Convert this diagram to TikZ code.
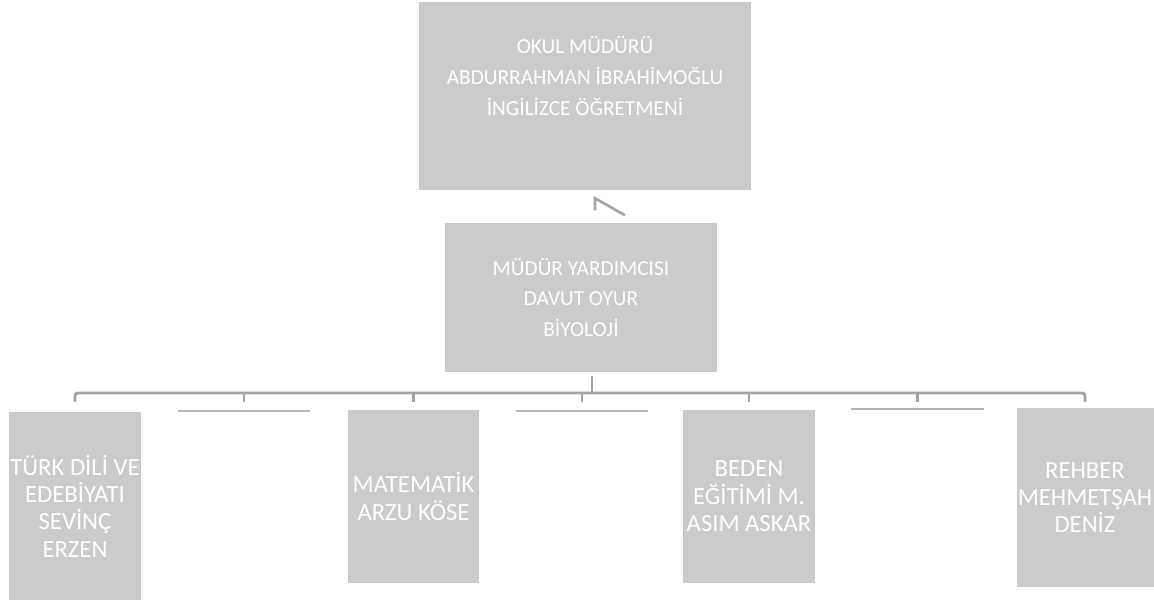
\documentclass[tikz,border=0pt]{standalone}
\usepackage{fontspec}
\setmainfont{Carlito}
\usepackage{xcolor}
\usepackage{tikz}
\usetikzlibrary{positioning, calc}
\definecolor{boxgray}{HTML}{CBCBCB}
\definecolor{linegray}{HTML}{A3A3A3}
\definecolor{gapgray}{HTML}{B5B5B5}

\begin{document}
\begin{tikzpicture}[
    x=0.75pt, y=-0.75pt,
    person/.style={fill=boxgray, text=white, align=center, inner sep=1pt,
                   font=\fontsize{16}{23.2}\selectfont},
    staff/.style={person, minimum width=98.5pt,
                  font=\fontsize{18.5}{20.5}\selectfont},
    gapslot/.style={minimum width=99pt, minimum height=8pt, inner sep=0pt},
    busline/.style={draw=linegray, line width=2.2pt},
    gapline/.style={draw=gapgray, line width=1.6pt}
]
  \useasboundingbox (0,0) rectangle (1154,602);

  % Management
  \node[person, minimum width=249pt, minimum height=141pt] (mudur) at (585,96)
    {OKUL MÜDÜRÜ\\ABDURRAHMAN İBRAHİMOĞLU\\İNGİLİZCE ÖĞRETMENİ\\[7pt]\rule{0pt}{0pt}};
  \node[person, minimum width=204pt, minimum height=112pt] (yard) at (581,297.5)
    {MÜDÜR YARDIMCISI\\DAVUT OYUR\\BİYOLOJİ};

  % Teachers row
  \node[staff, minimum height=141pt] (turk) at (75,506)
    {TÜRK DİLİ VE\\EDEBİYATI\\SEVİNÇ\\ERZEN};
  \node[staff, minimum height=130pt] (mat) at (413.5,496.5)
    {MATEMATİK\\ARZU KÖSE};
  \node[staff, minimum height=130pt] (beden) at (749,496.5)
    {BEDEN\\EĞİTİMİ M.\\ASIM ASKAR};
  \node[staff, minimum height=134pt] (rehber) at (1085,497.5)
    {REHBER\\MEHMETŞAH\\DENİZ};

  % Empty slots between the boxes
  \node[gapslot, anchor=north] (gap1) at (244,411) {};
  \node[gapslot, anchor=north] (gap2) at (582,411) {};
  \node[gapslot, anchor=north] (gap3) at (917.5,409) {};
  \foreach \g in {gap1,gap2,gap3}
    \draw[gapline] (\g.north west) -- (\g.north east);

  % Broken link between the two managers
  \draw[linegray, line width=2pt]
    ($(mudur.south)+(10,20)$) -- ++(0,-12) -- ++(30,17);

  % Bus
  \coordinate (hub) at (592,393);
  \draw[busline] ($(yard.south -| hub)+(0,4)$) -- (hub);
  \draw[busline, rounded corners=2]
    ($(turk.north)+(0,-10)$) |- (hub) -| ($(rehber.north)+(0,-6)$);
  \foreach \n in {gap1,mat,gap2,beden,gap3}
    \draw[busline] (\n.north |- hub) -- ++(0,9);
\end{tikzpicture}
\end{document}
